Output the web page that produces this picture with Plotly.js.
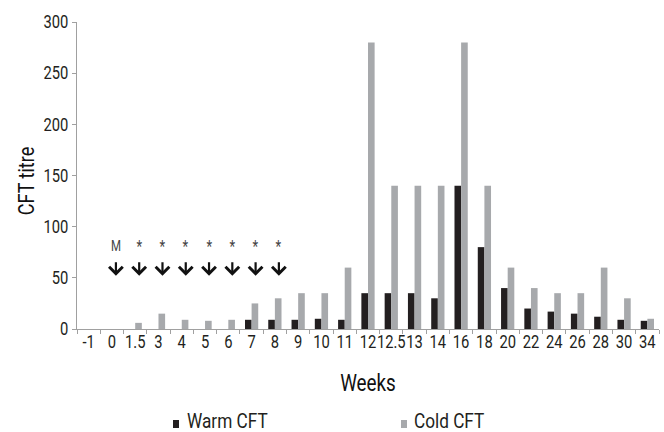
<!DOCTYPE html>
<html><head><meta charset="utf-8">
<script src="https://cdn.plot.ly/plotly-3.0.1.min.js"></script>
<style>html,body{margin:0;padding:0;background:#fff}</style>
</head><body><div id="chart" style="width:664px;height:432px"></div>
<script>
const weeks = ["-1","0","1.5","3","4","5","6","7","8","9","10","11","12","12.5","13","14","16","18","20","22","24","26","28","30","34"];
const warmCFT = [0,0,0,0,0,0,0,9,9,9,10,9,35,35,35,30,140,80,40,20,17,15,12,9,8];
const coldCFT = [0,0,6,15,9,8,9,25,30,35,35,60,280,140,140,140,280,140,60,40,35,35,60,30,10];
const markerWeeks = ["0","1.5","3","4","5","6","7","8"];
const markerLabels = ["M","*","*","*","*","*","*","*"];
const yTicks = [0,50,100,150,200,250,300];

const FONT = "Roboto, 'Liberation Sans', sans-serif";
const CONDENSE = 0.82;
const LEGEND_FS = 21;
const annotations = [];
markerWeeks.forEach((w, i) => {
  const xi = weeks.indexOf(w);
  annotations.push({x: xi, y: 52, xref: 'x', yref: 'y', ax: 0, ay: -15, axref: 'pixel', ayref: 'pixel',
    showarrow: true, arrowhead: 4, arrowsize: 1.2, arrowwidth: 2.2, arrowcolor: '#111', text: '', xshift: 4});
  annotations.push({x: xi, y: 81, xref: 'x', yref: 'y', text: markerLabels[i], showarrow: false, xshift: 4,
    font: {family: FONT, size: markerLabels[i] === 'M' ? 14 : 16, color: '#444'}});
});

const data = [
  {type: 'bar', name: 'Warm CFT', x: weeks, y: warmCFT, marker: {color: '#231f20'}},
  {type: 'bar', name: 'Cold CFT', x: weeks, y: coldCFT, marker: {color: '#a7a9ac'}}
];
const layout = {
  width: 664, height: 432,
  margin: {l: 77, r: 5, t: 22, b: 103},
  paper_bgcolor: '#fff', plot_bgcolor: '#fff',
  font: {family: FONT, size: 18, color: '#231f20'},
  barmode: 'group', bargap: 0.43, bargroupgap: 0,
  showlegend: true,
  legend: {orientation: 'h', x: 0.2, xanchor: 'left', yref: 'container', y: 0.06, yanchor: 'middle',
    entrywidth: 190, entrywidthmode: 'pixels', font: {family: FONT, size: LEGEND_FS, color: '#231f20'}},
  xaxis: {type: 'category', tickangle: 0, showline: true, linecolor: '#a0a0a0', linewidth: 1,
    ticks: 'outside', tickson: 'boundaries', ticklen: 4, tickcolor: '#a0a0a0',
    showgrid: false, zeroline: false, automargin: false,
    title: {text: 'Weeks', font: {family: FONT, size: 23, color: '#111'}, standoff: 18}},
  yaxis: {range: [0, 300], tickvals: yTicks, showline: true, linecolor: '#a0a0a0', linewidth: 1,
    ticks: 'outside', ticklen: 4, tickcolor: '#a0a0a0', showgrid: false, zeroline: false, automargin: false,
    title: {text: 'CFT titre', font: {family: FONT, size: 22, color: '#111'}, standoff: 10}},
  annotations: annotations
};
Plotly.newPlot('chart', data, layout, {displayModeBar: false, staticPlot: true}).then(() => {
  const root = document.getElementById('chart');
  const R = () => root.getBoundingClientRect();
  // legend: small square markers, tight gap to the label, placed as in the source
  root.querySelectorAll('.legend [clip-path]').forEach(e => e.removeAttribute('clip-path'));
  const want = [{mx: 176, tx: 187}, {mx: 404, tx: 414}];
  const markerCY = 424, baseline = 428;
  root.querySelectorAll('.legend g.traces').forEach((g, i) => {
    if (!want[i]) return;
    const p = g.querySelector('.legendpoints path');
    if (p) {
      p.setAttribute('d', 'M3,4H-3V-4H3Z');
      const r = p.getBoundingClientRect(), o = R();
      const dx = want[i].mx - (r.left + r.width / 2 - o.left);
      const dy = markerCY - (r.top + r.height / 2 - o.top);
      g.setAttribute('transform', ((g.getAttribute('transform') || '') + ' translate(' + dx + ',' + dy + ')').trim());
    }
    const t = g.querySelector('text.legendtext');
    if (t) {
      const tr = t.getBoundingClientRect(), o = R();
      const tdx = want[i].tx - (tr.left - o.left);
      const tdy = (baseline - 0.928 * LEGEND_FS) - (tr.top - o.top);
      t.setAttribute('x', parseFloat(t.getAttribute('x') || '0') + tdx);
      t.setAttribute('y', parseFloat(t.getAttribute('y') || '0') + tdy);
    }
  });
  // x tick labels sit a little closer to the axis in the source
  root.querySelectorAll('.xtick text').forEach(t => {
    t.setAttribute('y', parseFloat(t.getAttribute('y') || '0') - 4);
  });
  // narrow the lettering horizontally around each text's own anchor point
  root.querySelectorAll('text').forEach(t => {
    const x = parseFloat(t.getAttribute('x') || '0');
    const prev = t.getAttribute('transform') || '';
    t.setAttribute('transform', (prev + ' translate(' + x + ',0) scale(' + CONDENSE + ',1) translate(' + (-x) + ',0)').trim());
  });
  // place axis titles as in the source
  const place = (sel, cx, cy) => {
    const t = root.querySelector(sel);
    if (!t) return;
    const r = t.getBoundingClientRect(), o = R();
    const dx = cx == null ? 0 : cx - (r.left + r.width / 2 - o.left);
    const dy = cy == null ? 0 : cy - (r.top + r.height / 2 - o.top);
    t.setAttribute('transform', 'translate(' + dx + ',' + dy + ') ' + (t.getAttribute('transform') || ''));
  };
  place('.g-xtitle text', 368, 383);
  place('.g-ytitle text', 26, 181);
});
</script></body></html>
